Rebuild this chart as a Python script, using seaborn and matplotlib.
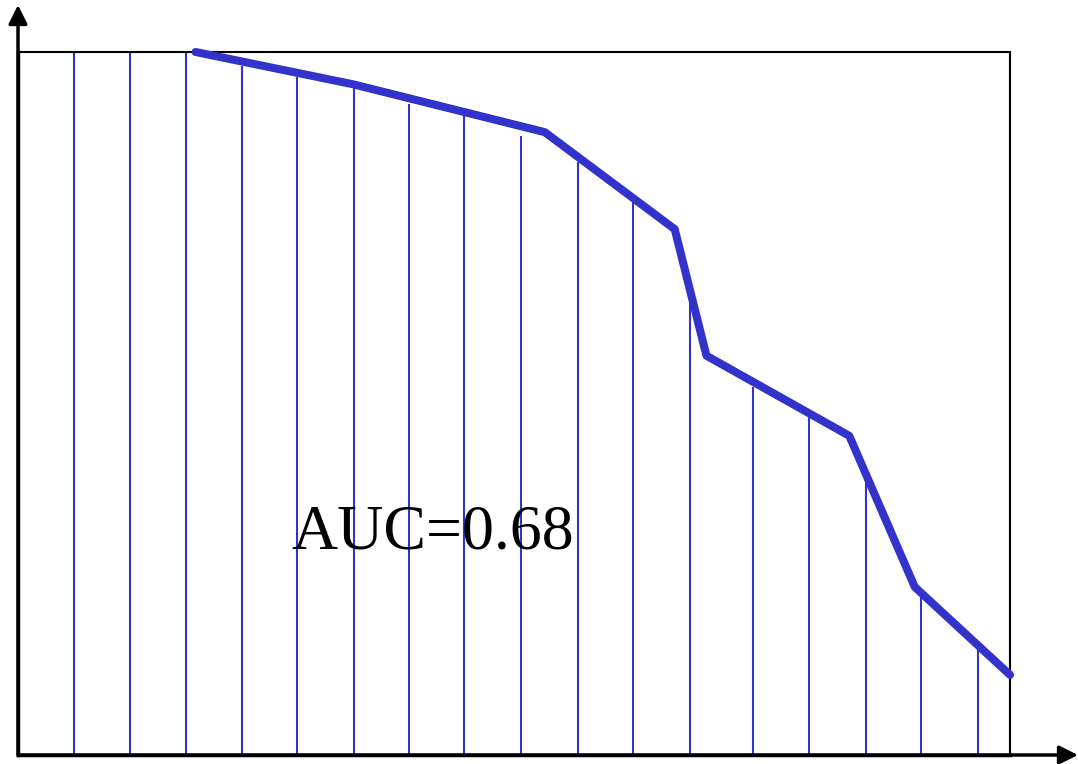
import matplotlib
matplotlib.use("Agg")
import matplotlib.pyplot as plt
import pandas as pd
import seaborn as sns

# curve vertices (false positive rate vs. true positive rate style, normalised 0..1)
curve_x = [0.179, 0.338, 0.531, 0.662, 0.694, 0.838, 0.904, 1.0]
curve_y = [1.0, 0.954, 0.886, 0.748, 0.568, 0.454, 0.239, 0.114]

# vertical strips under the curve
strip_x = [0.056, 0.113, 0.169, 0.226, 0.281, 0.339, 0.394, 0.450, 0.507,
           0.565, 0.620, 0.677, 0.741, 0.797, 0.855, 0.910, 0.968]
strip_top = [1.0, 1.0, 1.0, 0.980, 0.964, 0.949, 0.926, 0.909, 0.881,
             0.844, 0.787, 0.643, 0.523, 0.481, 0.391, 0.225, 0.149]

auc_label = "AUC=0.68"
blue = "#3333cc"

sns.set_style("white")

fig = plt.figure(figsize=(10.78, 7.64), dpi=100)
ax = fig.add_axes([18 / 1078, 9 / 764, 992 / 1078, 703 / 764])

ax.vlines(strip_x, 0, strip_top, color=blue, lw=1.5, zorder=1)

df = pd.DataFrame({"x": curve_x, "y": curve_y})
sns.lineplot(data=df, x="x", y="y", ax=ax, color=blue, lw=5.8, sort=False,
             zorder=3, clip_on=False)

ax.text(0.418, 0.294, auc_label, ha="center", va="baseline",
        family=["Liberation Serif", "DejaVu Serif"], fontsize=46, color="black", zorder=4)

ax.set_xlim(0, 1)
ax.set_ylim(0, 1)
ax.set_xticks([])
ax.set_yticks([])
ax.set_xlabel("")
ax.set_ylabel("")
for side in ["top", "right"]:
    ax.spines[side].set_linewidth(1.5)
    ax.spines[side].set_color("black")
for side in ["left", "bottom"]:
    ax.spines[side].set_linewidth(2.5)
    ax.spines[side].set_color("black")

# arrowed axes
ax.annotate("", xy=(0, 1 + 47 / 703), xytext=(0, 0), xycoords="axes fraction",
            arrowprops=dict(arrowstyle="-|>", lw=2.5, color="black", mutation_scale=28,
                            shrinkA=0, shrinkB=0), annotation_clip=False)
ax.annotate("", xy=(1 + 68 / 992, 0), xytext=(0, 0), xycoords="axes fraction",
            arrowprops=dict(arrowstyle="-|>", lw=2.5, color="black", mutation_scale=28,
                            shrinkA=0, shrinkB=0), annotation_clip=False)

fig.savefig("out.png", dpi=100, facecolor="white")
